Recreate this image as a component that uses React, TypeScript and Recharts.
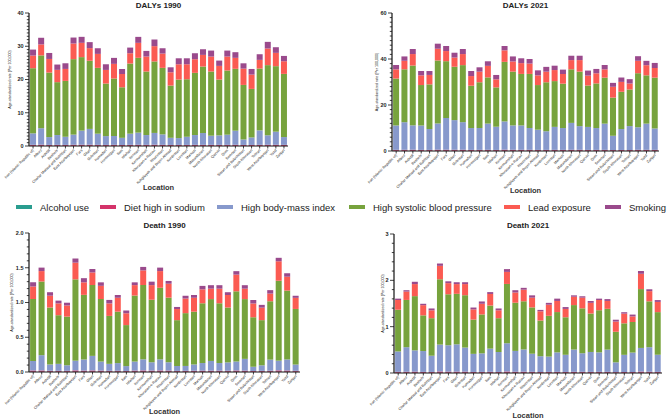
import React from 'react'
import { BarChart, Bar, XAxis, YAxis } from 'recharts'

const locations = [
  'Iran (Islamic Republic of)', 'Alborz', 'Ardebil', 'Bushehr', 'Chahar Mahaal and Bakhtiari', 'East Azarbayejan',
  'Fars', 'Gilan', 'Golestan', 'Hamadan', 'Hormozgan', 'Ilam', 'Isfahan', 'Kerman', 'Kermanshah',
  'Khorasan-e-Razavi', 'Khuzestan', 'Kohgiluyeh and Boyer-Ahmad', 'Kordestan', 'Lorestan', 'Markazi',
  'Mazandaran', 'North Khorasan', 'Qazvin', 'Qom', 'Semnan', 'Sistan and Baluchistan', 'South Khorasan',
  'Tehran', 'West Azarbayejan', 'Yazd', 'Zanjan',
]

// DALYs 1990
const dalys1990Alcohol = [0.05, 0.05, 0.05, 0.05, 0.05, 0.05, 0.05, 0.05, 0.05, 0.05, 0.05, 0.05, 0.05, 0.05, 0.05, 0.05, 0.05, 0.05, 0.05, 0.05, 0.05, 0.05, 0.05, 0.05, 0.05, 0.05, 0.05, 0.05, 0.05, 0.05, 0.05, 0.05]
const dalys1990Sodium = [0.3, 0.35, 0.28, 0.3, 0.28, 0.32, 0.33, 0.34, 0.3, 0.28, 0.3, 0.26, 0.3, 0.32, 0.3, 0.33, 0.3, 0.27, 0.28, 0.28, 0.3, 0.3, 0.3, 0.29, 0.3, 0.31, 0.27, 0.27, 0.3, 0.32, 0.31, 0.29]
const dalys1990Bmi = [3.45, 4.95, 2.35, 2.95, 2.45, 3.05, 4.25, 4.75, 3.35, 2.65, 2.65, 2.15, 3.35, 3.65, 2.95, 3.55, 3.15, 2.15, 2.05, 2.45, 2.95, 3.55, 2.75, 2.85, 3.05, 4.25, 1.65, 2.25, 4.35, 2.85, 3.95, 2.35]
const dalys1990Sbp = [19.6, 21.9, 19.4, 15.9, 16.8, 22.7, 22.1, 20.5, 19.8, 15.8, 17.3, 15.2, 21.1, 22.5, 19.1, 21.5, 20.0, 15.7, 17.6, 17.3, 18.7, 20.0, 19.3, 16.8, 19.3, 18.6, 16.4, 14.6, 18.6, 21.1, 19.7, 19.0]
const dalys1990Lead = [3.8, 3.3, 4.1, 3.7, 3.6, 4.7, 4.3, 3.8, 4.2, 4.1, 4.4, 4.0, 3.1, 4.5, 4.5, 4.6, 4.3, 4.0, 4.6, 4.5, 4.1, 3.5, 4.5, 4.1, 4.2, 3.3, 4.9, 4.3, 2.6, 5.0, 4.0, 3.8]
const dalys1990Smoking = [1.8, 2.0, 1.8, 1.6, 1.7, 1.8, 1.8, 1.8, 1.7, 1.7, 1.8, 1.5, 1.7, 1.8, 1.7, 2.0, 1.6, 1.5, 1.8, 1.8, 1.8, 1.7, 1.8, 1.6, 1.8, 1.7, 1.6, 1.7, 1.7, 2.0, 1.7, 1.6]

// DALYs 2021
const dalys2021Alcohol = [0.1, 0.1, 0.1, 0.1, 0.1, 0.1, 0.1, 0.1, 0.1, 0.1, 0.1, 0.1, 0.1, 0.1, 0.1, 0.1, 0.1, 0.1, 0.1, 0.1, 0.1, 0.1, 0.1, 0.1, 0.1, 0.1, 0.1, 0.1, 0.1, 0.1, 0.1, 0.1]
const dalys2021Sodium = [0.4, 0.42, 0.45, 0.38, 0.37, 0.46, 0.45, 0.43, 0.44, 0.38, 0.39, 0.41, 0.36, 0.46, 0.42, 0.41, 0.41, 0.37, 0.38, 0.39, 0.38, 0.42, 0.42, 0.37, 0.38, 0.39, 0.32, 0.35, 0.34, 0.42, 0.4, 0.39]
const dalys2021Bmi = [10.6, 12.0, 10.6, 10.6, 9.1, 11.4, 13.8, 12.9, 12.0, 9.5, 9.5, 11.4, 10.1, 12.3, 10.6, 10.6, 9.5, 8.8, 8.1, 10.0, 9.5, 11.7, 10.3, 10.0, 9.5, 11.4, 6.2, 9.1, 10.4, 9.8, 11.4, 9.3]
const dalys2021Sbp = [20.4, 23.0, 26.0, 17.6, 19.4, 27.4, 24.7, 23.2, 24.8, 18.4, 19.9, 20.1, 17.1, 25.9, 23.4, 22.4, 23.5, 19.4, 21.3, 19.9, 19.3, 23.3, 23.7, 18.0, 19.4, 20.0, 16.6, 16.2, 15.9, 23.5, 21.0, 22.1]
const dalys2021Lead = [4.0, 3.7, 5.0, 4.2, 4.1, 5.1, 4.4, 4.0, 4.8, 4.2, 4.6, 5.0, 3.5, 5.0, 4.4, 4.7, 4.5, 4.2, 4.6, 4.8, 4.2, 4.0, 5.0, 4.3, 4.4, 3.6, 4.7, 4.3, 2.6, 5.4, 4.4, 4.2]
const dalys2021Smoking = [1.9, 1.9, 2.2, 1.9, 1.7, 2.2, 2.2, 2.1, 2.2, 2.2, 1.9, 2.0, 1.9, 1.9, 2.2, 2.1, 2.0, 2.2, 2.1, 1.9, 1.9, 1.9, 1.9, 2.2, 1.9, 1.9, 1.7, 1.9, 1.9, 2.0, 1.9, 2.2]

// Death 1990
const death1990Alcohol = [0.004, 0.004, 0.004, 0.004, 0.004, 0.004, 0.004, 0.004, 0.004, 0.004, 0.004, 0.004, 0.004, 0.004, 0.004, 0.004, 0.004, 0.004, 0.004, 0.004, 0.004, 0.004, 0.004, 0.004, 0.004, 0.004, 0.004, 0.004, 0.004, 0.004, 0.004, 0.004]
const death1990Sodium = [0.016, 0.018, 0.014, 0.013, 0.013, 0.019, 0.016, 0.018, 0.016, 0.013, 0.014, 0.011, 0.016, 0.018, 0.016, 0.018, 0.016, 0.012, 0.013, 0.014, 0.015, 0.015, 0.015, 0.014, 0.017, 0.015, 0.012, 0.012, 0.014, 0.019, 0.017, 0.013]
const death1990Bmi = [0.14, 0.22, 0.09, 0.10, 0.08, 0.14, 0.16, 0.21, 0.13, 0.10, 0.11, 0.07, 0.13, 0.16, 0.12, 0.16, 0.12, 0.07, 0.07, 0.09, 0.11, 0.14, 0.11, 0.12, 0.13, 0.17, 0.06, 0.08, 0.16, 0.14, 0.16, 0.09]
const death1990Sbp = [0.89, 1.06, 0.82, 0.70, 0.70, 1.17, 0.93, 1.02, 0.90, 0.69, 0.74, 0.59, 0.95, 1.07, 0.90, 1.03, 0.93, 0.66, 0.76, 0.76, 0.86, 0.89, 0.86, 0.79, 1.01, 0.86, 0.71, 0.65, 0.84, 1.15, 0.99, 0.80]
const death1990Lead = [0.18, 0.15, 0.17, 0.17, 0.16, 0.24, 0.18, 0.18, 0.19, 0.18, 0.20, 0.17, 0.15, 0.21, 0.21, 0.24, 0.20, 0.16, 0.21, 0.20, 0.20, 0.15, 0.21, 0.18, 0.24, 0.15, 0.20, 0.18, 0.11, 0.28, 0.20, 0.16]
const death1990Smoking = [0.06, 0.05, 0.05, 0.04, 0.04, 0.06, 0.06, 0.05, 0.05, 0.05, 0.04, 0.04, 0.04, 0.05, 0.05, 0.05, 0.04, 0.03, 0.04, 0.04, 0.05, 0.05, 0.05, 0.04, 0.05, 0.05, 0.05, 0.04, 0.05, 0.05, 0.05, 0.03]

// Death 2021
const death2021Alcohol = [0.005, 0.005, 0.005, 0.005, 0.005, 0.005, 0.005, 0.005, 0.005, 0.005, 0.005, 0.005, 0.005, 0.005, 0.005, 0.005, 0.005, 0.005, 0.005, 0.005, 0.005, 0.005, 0.005, 0.005, 0.005, 0.005, 0.005, 0.005, 0.005, 0.005, 0.005, 0.005]
const death2021Sodium = [0.02, 0.022, 0.024, 0.019, 0.018, 0.028, 0.024, 0.024, 0.024, 0.018, 0.019, 0.021, 0.018, 0.027, 0.022, 0.023, 0.021, 0.017, 0.019, 0.02, 0.018, 0.021, 0.021, 0.019, 0.02, 0.02, 0.015, 0.017, 0.016, 0.026, 0.022, 0.019]
const death2021Bmi = [0.44, 0.53, 0.46, 0.45, 0.35, 0.58, 0.57, 0.59, 0.52, 0.39, 0.40, 0.50, 0.43, 0.61, 0.45, 0.48, 0.39, 0.34, 0.33, 0.42, 0.37, 0.48, 0.40, 0.43, 0.42, 0.48, 0.21, 0.37, 0.42, 0.51, 0.53, 0.37]
const death2021Sbp = [0.90, 1.02, 1.17, 0.77, 0.81, 1.41, 1.10, 1.09, 1.13, 0.74, 0.84, 0.93, 0.73, 1.28, 1.04, 1.04, 1.00, 0.77, 0.88, 0.87, 0.81, 0.96, 0.97, 0.83, 0.91, 0.88, 0.66, 0.68, 0.66, 1.27, 0.99, 0.92]
const death2021Lead = [0.21, 0.18, 0.26, 0.22, 0.17, 0.29, 0.24, 0.21, 0.24, 0.22, 0.23, 0.25, 0.17, 0.26, 0.22, 0.25, 0.21, 0.20, 0.24, 0.24, 0.18, 0.18, 0.23, 0.23, 0.22, 0.17, 0.22, 0.21, 0.12, 0.33, 0.22, 0.22]
const death2021Smoking = [0.03, 0.03, 0.05, 0.03, 0.04, 0.05, 0.04, 0.04, 0.04, 0.04, 0.05, 0.04, 0.04, 0.06, 0.05, 0.04, 0.05, 0.03, 0.04, 0.05, 0.04, 0.03, 0.03, 0.04, 0.03, 0.04, 0.04, 0.03, 0.04, 0.06, 0.04, 0.04]

const dalys1990Ticks = [0, 10, 20, 30, 40]
const dalys2021Ticks = [0, 20, 40, 60]
const death1990Ticks = [0, 0.5, 1.0, 1.5, 2.0]
const death2021Ticks = [0, 1, 2, 3]

const seriesNames = ['Alcohol use', 'Diet high in sodium', 'High body-mass index', 'High systolic blood pressure', 'Lead exposure', 'Smoking']
const seriesKeys = ['alcohol', 'sodium', 'bmi', 'sbp', 'lead', 'smoking']
const colors = ['#2a9d8f', '#d4336a', '#8799cc', '#77a33d', '#fb5b52', '#9a4a8c']

const FONT = '"Liberation Sans", Arial, sans-serif'
const Y_LABEL = 'Age-standardized rate (Per 100,000)'

function buildRows(cols: number[][]) {
  return locations.map((loc, i) => {
    const row: Record<string, string | number> = { loc }
    seriesKeys.forEach((k, j) => { row[k] = cols[j][i] })
    return row
  })
}

// minor ticks between the labelled ones
function withMinor(major: number[], step: number) {
  const out: number[] = []
  const max = major[major.length - 1]
  const n = Math.round(max / step)
  for (let i = 0; i <= n; i++) out.push(+(i * step).toFixed(4))
  return out
}

function XTick({ x, y, payload }: any) {
  return (
    <text x={x} y={y} dy={1.5} transform={`rotate(-45 ${x} ${y})`} textAnchor="end" fontSize={3.6} fontFamily={FONT} fill="#222">
      {payload.value}
    </text>
  )
}

function makeYTick(major: number[], decimals: number) {
  return function YTick({ x, y, payload }: any) {
    const isMajor = major.some((m) => Math.abs(m - payload.value) < 1e-6)
    return (
      <g>
        <line x1={x - (isMajor ? 4 : 2.2)} x2={x} y1={y} y2={y} stroke="#111" strokeWidth={0.8} />
        {isMajor && (
          <text x={x - 5.5} y={y} dy="0.35em" textAnchor="end" fontSize={5.5} fontWeight="bold" fontFamily={FONT} fill="#222">
            {payload.value.toFixed(decimals)}
          </text>
        )}
      </g>
    )
  }
}

type PanelProps = {
  title: string
  cols: number[][]
  major: number[]
  minorStep: number
  decimals: number
  left: number
  top: number
  width: number
  height: number
  mTop: number
  mRight: number
  yW: number
  xH: number
  yLabelX: number
  locY: number
}

function Panel(p: PanelProps) {
  const rows = buildRows(p.cols)
  const ticks = withMinor(p.major, p.minorStep)
  const plotLeft = p.yW
  const plotRight = p.width - p.mRight
  const plotTop = p.mTop
  const plotBottom = p.height - p.xH
  const cx = (plotLeft + plotRight) / 2
  const cy = (plotTop + plotBottom) / 2
  return (
    <div style={{ position: 'absolute', left: p.left, top: p.top, width: p.width, height: p.height }}>
      <BarChart width={p.width} height={p.height} data={rows} margin={{ top: p.mTop, right: p.mRight, left: 0, bottom: 0 }} barCategoryGap="13%">
        <XAxis dataKey="loc" interval={0} height={p.xH} tick={<XTick />} tickSize={2.5} tickMargin={1} stroke="#111" tickLine={{ stroke: '#111', strokeWidth: 0.8 }} axisLine={{ stroke: '#111', strokeWidth: 1 }} />
        <YAxis type="number" domain={[0, p.major[p.major.length - 1]]} ticks={ticks} interval={0} width={p.yW} tickSize={0} tickMargin={0} tickLine={false} axisLine={{ stroke: '#111', strokeWidth: 1.2 }} tick={makeYTick(p.major, p.decimals)} />
        {seriesKeys.map((k, j) => (
          <Bar key={k} dataKey={k} name={seriesNames[j]} stackId="a" fill={colors[j]} isAnimationActive={false} />
        ))}
      </BarChart>
      <svg width={p.width} height={p.height} style={{ position: 'absolute', left: 0, top: 0, pointerEvents: 'none' }}>
        <text x={cx} y={5} dy="0.35em" textAnchor="middle" fontSize={8} fontWeight="bold" fontFamily={FONT} fill="#222">{p.title}</text>
        <text x={cx} y={p.locY} dy="0.35em" textAnchor="middle" fontSize={7.5} fontWeight="bold" fontFamily={FONT} fill="#333">Location</text>
        <text x={p.yLabelX} y={cy} dy="0.35em" transform={`rotate(-90 ${p.yLabelX} ${cy})`} textAnchor="middle" fontSize={3.6} fontFamily={FONT} fill="#222">{Y_LABEL}</text>
      </svg>
    </div>
  )
}

const legendLefts = [16, 100, 217, 349, 504, 605]

function LegendRow() {
  return (
    <div style={{ position: 'absolute', left: 0, top: 201, width: 669, height: 12, fontFamily: FONT, fontSize: 9.5, color: '#222' }}>
      {seriesNames.map((n, j) => (
        <div key={n} style={{ position: 'absolute', left: legendLefts[j], top: 0, height: 12, display: 'flex', alignItems: 'center', whiteSpace: 'nowrap' }}>
          <span style={{ display: 'inline-block', width: 16, height: 4, background: colors[j], marginRight: 8 }} />
          <span>{n}</span>
        </div>
      ))}
    </div>
  )
}

export default function App() {
  return (
    <div style={{ position: 'absolute', left: 0, top: 0, width: 669, height: 420, background: '#fff', overflow: 'hidden' }}>
      <Panel title="DALYs 1990" cols={[dalys1990Alcohol, dalys1990Sodium, dalys1990Bmi, dalys1990Sbp, dalys1990Lead, dalys1990Smoking]}
        major={dalys1990Ticks} minorStep={1} decimals={0} left={0} top={0} width={335} height={195}
        mTop={13} mRight={47} yW={29} xH={49} yLabelX={10} locY={187} />
      <Panel title="DALYs 2021" cols={[dalys2021Alcohol, dalys2021Sodium, dalys2021Bmi, dalys2021Sbp, dalys2021Lead, dalys2021Smoking]}
        major={dalys2021Ticks} minorStep={2} decimals={0} left={335} top={0} width={334} height={195}
        mTop={13} mRight={10} yW={57} xH={44} yLabelX={42} locY={190} />
      <LegendRow />
      <Panel title="Death 1990" cols={[death1990Alcohol, death1990Sodium, death1990Bmi, death1990Sbp, death1990Lead, death1990Smoking]}
        major={death1990Ticks} minorStep={0.1} decimals={1} left={0} top={220} width={335} height={200}
        mTop={13} mRight={35} yW={29} xH={48} yLabelX={12} locY={191} />
      <Panel title="Death 2021" cols={[death2021Alcohol, death2021Sodium, death2021Bmi, death2021Sbp, death2021Lead, death2021Smoking]}
        major={death2021Ticks} minorStep={0.2} decimals={0} left={335} top={220} width={334} height={200}
        mTop={14} mRight={7} yW={59} xH={47} yLabelX={48} locY={195} />
    </div>
  )
}
